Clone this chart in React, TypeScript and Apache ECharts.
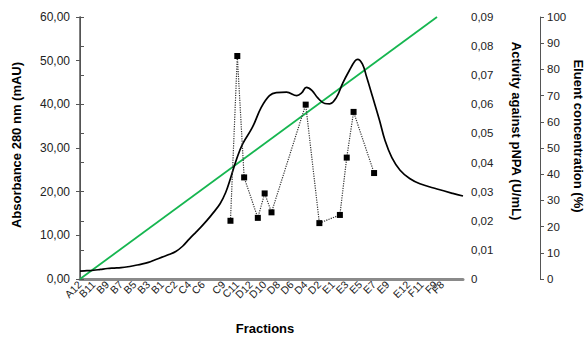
import React, { useEffect, useRef } from "react";
import * as echarts from "echarts";

// Fraction positions (index along the elution) and their labels
const fractionTicks = [0, 2, 4, 6, 8, 10, 12, 14, 16, 18, 21, 23, 25, 27, 29, 31, 33, 35, 37, 39, 41, 43, 45, 48, 50, 52, 53];
const fractionLabels = ["A12", "B11", "B9", "B7", "B5", "B3", "B1", "C2", "C4", "C6", "C9", "C11", "D12", "D10", "D8", "D6", "D4", "D2", "E1", "E3", "E5", "E7", "E9", "E12", "F11", "F9", "F8"];

// Absorbance 280 nm (mAU)
const absX = [0, 1, 2, 3, 4, 5, 6, 7, 8, 9, 10, 11, 12, 13, 14, 15, 16, 17, 17.5, 18.5, 19.5, 20.5, 21.3, 22, 22.9, 23.8, 25.2, 26.5, 27.7, 28.7, 30.2, 31.7, 32.4, 33.1, 33.9, 34.8, 35.8, 36.5, 37.5, 38.4, 39.4, 40.2, 40.6, 41.3, 41.9, 42.8, 43.8, 44.6, 45.6, 46.8, 48.2, 49.7, 52.2, 54.5, 56];
const absY = [1.8, 1.9, 2.0, 2.2, 2.4, 2.5, 2.6, 2.8, 3.1, 3.4, 3.8, 4.4, 5.0, 5.6, 6.3, 7.5, 9.2, 10.8, 11.6, 13.3, 15.2, 17.3, 19.8, 23.0, 27.5, 31.0, 34.7, 39.3, 42.0, 42.7, 42.8, 42.0, 42.6, 43.9, 43.2, 41.4, 40.2, 40.1, 41.6, 44.8, 47.8, 49.9, 50.3, 49.2, 46.3, 41.6, 36.3, 31.7, 27.8, 24.9, 23.0, 21.8, 20.6, 19.6, 19.0];

// Activity against pNPA (U/mL)
const actX = [22, 23, 24, 26, 27, 28, 33, 35, 38, 39, 40, 43];
const actY = [0.020, 0.0766, 0.0349, 0.021, 0.0294, 0.0229, 0.0599, 0.0192, 0.022, 0.0417, 0.0574, 0.0364];

// Eluent concentration (%)
const eluX = [0, 52.2];
const eluY = [0, 100];

const FONT = "'Liberation Sans', Arial, sans-serif";

export default function App() {
  const ref = useRef<HTMLDivElement>(null);
  useEffect(() => {
    if (!ref.current) return;
    const chart = echarts.init(ref.current, undefined, { renderer: "svg" });
    const labelMap: Record<string, string> = {};
    fractionTicks.forEach((t, i) => (labelMap[String(t)] = fractionLabels[i]));
    const ticksA = fractionTicks.filter((_, i) => i % 2 === 0);
    const ticksB = fractionTicks.filter((_, i) => i % 2 === 1);
    const comma = (v: number, d: number) => v.toFixed(d).replace(".", ",");
    const title = (text: string, x: number, y: number, rotation: number) => ({
      type: "text",
      x,
      y,
      rotation,
      style: {
        text,
        fontFamily: FONT,
        fontSize: 13,
        fontWeight: "bold",
        fill: "#000",
        textAlign: "center",
        textVerticalAlign: "middle",
      },
    });
    const xLabel = (values: number[]) => ({
      customValues: values,
      rotate: 45,
      margin: 4,
      fontSize: 10.5,
      fontFamily: FONT,
      color: "#222",
      hideOverlap: false,
      showMinLabel: true,
      showMaxLabel: true,
      formatter: (v: number) => labelMap[String(v)] ?? "",
    });
    chart.setOption({
      animation: false,
      backgroundColor: "#fff",
      grid: { left: 80, right: 125, top: 17, bottom: 60, containLabel: false },
      xAxis: [
        {
          type: "value",
          position: "bottom",
          min: 0,
          max: 56,
          splitLine: { show: false },
          axisTick: { show: false },
          axisLine: { show: true, lineStyle: { color: "#8a8a8a", width: 3 } },
          axisLabel: xLabel(ticksA),
        },
        {
          type: "value",
          position: "bottom",
          min: 0,
          max: 56,
          splitLine: { show: false },
          axisTick: { show: false },
          axisLine: { show: false },
          axisLabel: xLabel(ticksB),
        },
      ],
      yAxis: [
        {
          type: "value",
          position: "left",
          min: 0,
          max: 60,
          interval: 10,
          splitLine: { show: false },
          axisLine: { show: true, lineStyle: { color: "#555", width: 1 } },
          axisTick: { show: true, length: 4, lineStyle: { color: "#555" } },
          axisLabel: { fontSize: 12, fontFamily: FONT, color: "#222", margin: 10, formatter: (v: number) => comma(v, 2) },
        },
        {
          type: "value",
          position: "right",
          min: 0,
          max: 0.09,
          interval: 0.01,
          splitLine: { show: false },
          axisLine: { show: true, lineStyle: { color: "#555", width: 1.5 } },
          axisTick: { show: true, length: 4, lineStyle: { color: "#555" } },
          axisLabel: { fontSize: 11.5, fontFamily: FONT, color: "#222", margin: 8, formatter: (v: number) => (v === 0 ? "0" : comma(v, 2)) },
        },
        {
          type: "value",
          position: "right",
          offset: 77,
          min: 0,
          max: 100,
          interval: 10,
          splitLine: { show: false },
          axisLine: { show: true, lineStyle: { color: "#555", width: 1 } },
          axisTick: { show: true, length: 4, lineStyle: { color: "#555" } },
          axisLabel: { fontSize: 11.5, fontFamily: FONT, color: "#222", margin: 7 },
        },
      ],
      series: [
        {
          name: "Eluent",
          type: "line",
          xAxisIndex: 0,
          yAxisIndex: 2,
          data: eluX.map((x, i) => [x, eluY[i]]),
          showSymbol: false,
          lineStyle: { color: "#16b650", width: 1.8 },
          z: 2,
        },
        {
          name: "Absorbance",
          type: "line",
          xAxisIndex: 0,
          yAxisIndex: 0,
          data: absX.map((x, i) => [x, absY[i]]),
          showSymbol: false,
          smooth: 0.4,
          lineStyle: { color: "#000", width: 1.7 },
          z: 3,
        },
        {
          name: "Activity",
          type: "line",
          xAxisIndex: 0,
          yAxisIndex: 1,
          data: actX.map((x, i) => [x, actY[i]]),
          symbol: "rect",
          symbolSize: 6,
          itemStyle: { color: "#000" },
          lineStyle: { color: "#333", width: 1.2, type: "dotted" },
          z: 4,
        },
      ],
      graphic: [
        title("Absorbance 280 nm (mAU)", 16, 145, Math.PI / 2),
        title("Activity against pNPA (U/mL)", 516, 131, -Math.PI / 2),
        title("Eluent concentration (%)", 578, 136, -Math.PI / 2),
        title("Fractions", 265, 328, 0),
      ],
    });
    return () => chart.dispose();
  }, []);
  return <div ref={ref} style={{ position: "fixed", left: 0, top: 0, width: 588, height: 339 }} />;
}
